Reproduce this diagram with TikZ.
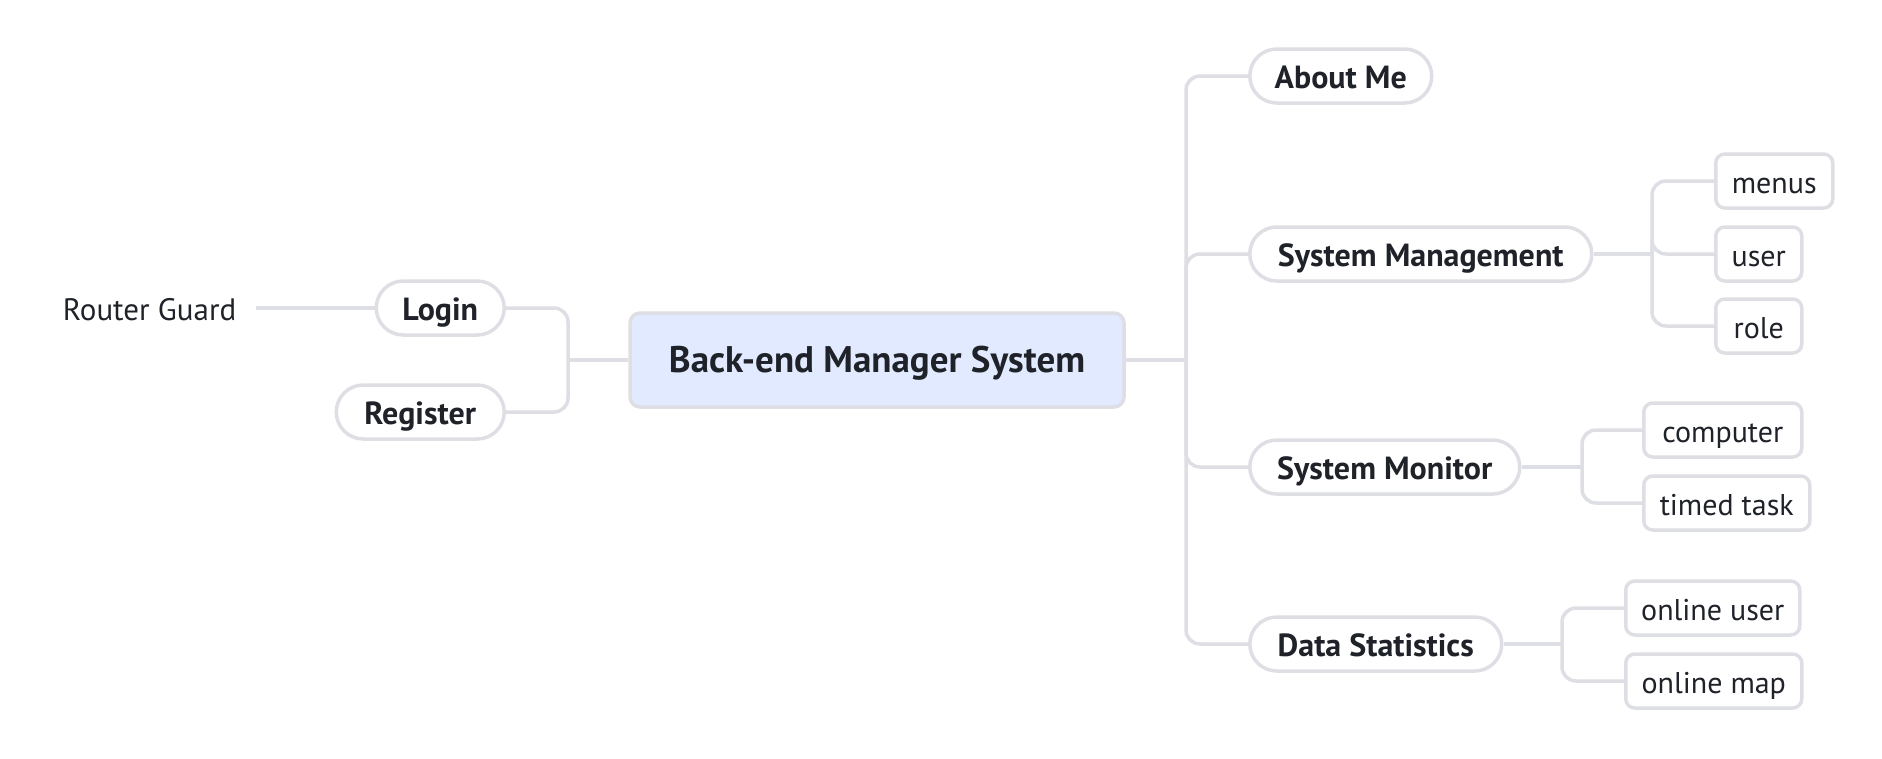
\documentclass[tikz,border=0pt]{standalone}
\usepackage{fontspec}
\setmainfont{PT Sans}
\usepackage{tikz}
\usepackage{xcolor}
\usetikzlibrary{positioning}
\definecolor{linegray}{RGB}{222, 223, 228}
\definecolor{rootblue}{RGB}{225, 234, 255}
\definecolor{textdark}{RGB}{31, 35, 41}

\begin{document}
\begin{tikzpicture}[
        x = 1pt, y = -1pt, % pixel-like units, y going down
        line width = 3.5pt, % line style
        rounded corners = 14pt,
        text = textdark,
        every node/.style = {text height = 26pt, text depth = 1pt} % baseline 12.5pt below centre
    ]
        \tikzstyle{root}=[
            draw = linegray,
            fill = rootblue,
            rounded corners = 10pt,
            minimum height = 94pt,
            font = \fontsize{37}{44}\selectfont\bfseries
        ]
        \tikzstyle{topic}=[
            draw = linegray,
            fill = white,
            rounded corners = 27pt,
            minimum height = 54pt,
            font = \fontsize{32}{38}\selectfont\bfseries
        ]
        \tikzstyle{leaf}=[
            draw = linegray,
            fill = white,
            rounded corners = 9pt,
            minimum height = 54pt,
            font = \fontsize{30}{36}\selectfont
        ]
        \tikzstyle{wire}=[draw = linegray]

        \useasboundingbox (0,0) rectangle (1882,758);

        % centre
        \node[root, minimum width = 494pt] (bms) at (877,360) {Back-end Manager System};

        % left side
        \node[topic, anchor = east, minimum width = 128pt] (login) at (506,308) {Login};
        \node[topic, anchor = east, minimum width = 168pt] (register) at (506,412) {Register};
        \node[anchor = east, inner xsep = 18pt, font = \fontsize{31}{37}\selectfont] (guard) at (256,308) {Router Guard};

        % right side
        \node[topic, anchor = west, minimum width = 182pt] (about) at (1248,76) {About Me};
        \node[topic, anchor = west, minimum width = 342pt] (mgmt) at (1248,254) {System Management};
        \node[topic, anchor = west, minimum width = 270pt] (monitor) at (1248,467) {System Monitor};
        \node[topic, anchor = west, minimum width = 252pt] (stats) at (1248,644) {Data Statistics};

        \node[leaf, anchor = west, minimum width = 117pt] (menus) at (1714,181) {menus};
        \node[leaf, anchor = west, minimum width = 86pt] (user) at (1714,254) {user};
        \node[leaf, anchor = west, minimum width = 86pt] (role) at (1714,326) {role};

        \node[leaf, anchor = west, minimum width = 158pt] (computer) at (1642,430) {computer};
        \node[leaf, anchor = west, minimum width = 166pt] (task) at (1642,503) {timed task};

        \node[leaf, anchor = west, minimum width = 174pt] (onuser) at (1624,608) {online user};
        \node[leaf, anchor = west, minimum width = 176pt] (onmap) at (1624,681) {online map};

        % junctions
        \coordinate (jl) at (568,360);
        \coordinate (jr) at (1186,360);
        \coordinate (jmgmt) at (1652,254);
        \coordinate (jmon) at (1582,467);
        \coordinate (jstats) at (1562,644);

        % connectors
        \draw[wire] (bms.west) -- (jl);
        \draw[wire] (jl) |- (login.east);
        \draw[wire] (jl) |- (register.east);
        \draw[wire] (guard.east) -- (login.west);

        \draw[wire] (bms.east) -- (jr);
        \foreach \t in {about, mgmt, monitor, stats}
            \draw[wire] (jr) |- (\t.west);

        \draw[wire] (mgmt.east) -- (jmgmt);
        \foreach \t in {menus, user, role}
            \draw[wire] (jmgmt) |- (\t.west);

        \draw[wire] (monitor.east) -- (jmon);
        \foreach \t in {computer, task}
            \draw[wire] (jmon) |- (\t.west);

        \draw[wire] (stats.east) -- (jstats);
        \foreach \t in {onuser, onmap}
            \draw[wire] (jstats) |- (\t.west);
    \end{tikzpicture}
\end{document}
